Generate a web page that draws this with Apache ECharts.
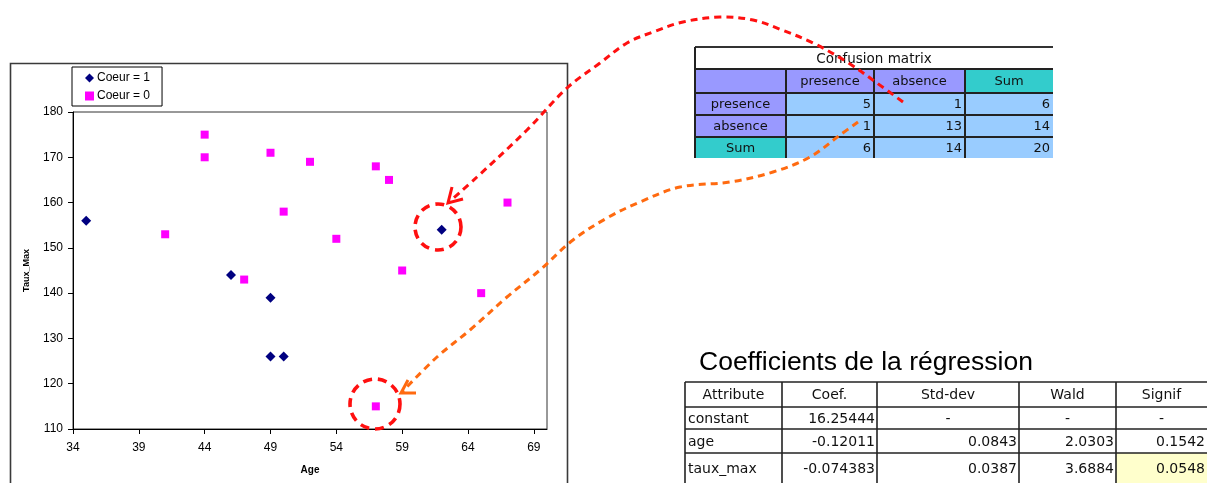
<!DOCTYPE html>
<html>
<head>
<meta charset="utf-8">
<script src="https://cdn.jsdelivr.net/npm/echarts@6/dist/echarts.min.js"></script>
<style>
  html, body { margin: 0; padding: 0; background: #ffffff; }
  #main { width: 1207px; height: 483px; }
</style>
</head>
<body>
<div id="main"></div>
<script>
// ---- Scatter data: age vs. maximum heart rate, split by the Coeur class ----
const ageCoeur1  = [35, 46, 49, 49, 50, 62];
const tauxCoeur1 = [156, 144, 139, 126, 126, 154];

const ageCoeur0  = [44, 44, 49, 50, 41, 52, 57, 58, 54, 47, 67, 59, 65, 57];
const tauxCoeur0 = [175, 170, 171, 158, 153, 169, 168, 165, 152, 143, 160, 145, 140, 115];

const ageTicks = [34, 39, 44, 49, 54, 59, 64, 69];

// ---- Confusion matrix ----
const cmTitle = 'Confusion matrix';
const cmColLabels = ['presence', 'absence', 'Sum'];
const cmRowLabels = ['presence', 'absence', 'Sum'];
const cmPresence = [5, 1, 6];
const cmAbsence  = [1, 13, 14];
const cmSum      = [6, 14, 20];

// ---- Logistic regression coefficients ----
const regTitle = 'Coefficients de la régression';
const regHeaders    = ['Attribute', 'Coef.', 'Std-dev', 'Wald', 'Signif'];
const regAttributes = ['constant', 'age', 'taux_max'];
const regCoef       = ['16.25444', '-0.12011', '-0.074383'];
const regStdDev     = ['-', '0.0843', '0.0387'];
const regWald       = ['-', '2.0303', '3.6884'];
const regSignif     = ['-', '0.1542', '0.0548'];

const chart = echarts.init(document.getElementById('main'), null, { renderer: 'canvas' });

const AXIS_FONT = 'Liberation Sans, Arial, sans-serif';
const TABLE_FONT = 'DejaVu Sans, Verdana, sans-serif';

function pairs(xs, ys) { return xs.map((x, i) => [x, ys[i]]); }

// ---------- graphic helpers ----------
const elements = [];
function rect(x, y, w, h, fill, z) {
  elements.push({ type: 'rect', shape: { x, y, width: w, height: h }, style: { fill }, z: z || 1, silent: true });
}
function line(x1, y1, x2, y2, stroke, lw, z) {
  elements.push({ type: 'line', shape: { x1, y1, x2, y2 }, style: { stroke, lineWidth: lw }, z: z || 3, silent: true });
}
function text(x, y, str, font, align, fill, z) {
  elements.push({ type: 'text', x, y, style: { text: str, font, align, verticalAlign: 'middle', fill: fill || '#111' }, z: z || 4, silent: true });
}

// Outer frame of the chart object
elements.push({ type: 'rect', shape: { x: 10.5, y: 63.5, width: 557, height: 440 },
  style: { fill: 'none', stroke: '#3a3a3a', lineWidth: 1.6 }, z: 0, silent: true });

// ---------- confusion matrix ----------
(function () {
  const xs = [695, 786, 874, 965, 1053];
  const ys = [47, 69, 93, 115, 137, 158];
  const lav = '#9999FF', teal = '#33CCCC', blue = '#99CCFF';
  const font = '13px ' + TABLE_FONT;
  const body = [cmPresence, cmAbsence, cmSum];
  const headFills = [lav, lav, lav, teal];
  const rowFills = [lav, lav, teal];

  // header row
  for (let c = 0; c < 4; c++) rect(xs[c], ys[1], xs[c + 1] - xs[c], ys[2] - ys[1], headFills[c]);
  cmColLabels.forEach((t, c) => text((xs[c + 1] + xs[c + 2]) / 2, (ys[1] + ys[2]) / 2 + 1, t, font, 'center'));
  // body rows
  for (let r = 0; r < 3; r++) {
    const y0 = ys[r + 2], y1 = ys[r + 3];
    rect(xs[0], y0, xs[1] - xs[0], y1 - y0, rowFills[r]);
    for (let c = 1; c < 4; c++) rect(xs[c], y0, xs[c + 1] - xs[c], y1 - y0, blue);
    text((xs[0] + xs[1]) / 2, (y0 + y1) / 2 + 1, cmRowLabels[r], font, 'center');
    body[r].forEach((v, c) => text(xs[c + 2] - 3, (y0 + y1) / 2 + 1, String(v), font, 'right'));
  }
  text((xs[0] + xs[4]) / 2, (ys[0] + ys[1]) / 2 + 1, cmTitle, '13.5px ' + TABLE_FONT, 'center');

  // rules
  line(xs[0], ys[0], xs[4], ys[0], '#333', 2);
  for (let r = 1; r <= 4; r++) line(xs[0], ys[r], xs[4], ys[r], '#222', 2);
  line(xs[0], ys[0], xs[0], ys[5], '#222', 2);
  for (let c = 1; c <= 3; c++) line(xs[c], ys[1], xs[c], ys[5], '#222', 2);
})();

// ---------- regression coefficients table ----------
(function () {
  const xs = [685, 782, 877, 1019, 1116, 1207];
  const ys = [382, 407, 429, 453, 483];
  const font = '14px ' + TABLE_FONT;
  const cols = [regCoef, regStdDev, regWald, regSignif];

  // highlighted p-value
  rect(xs[4], ys[3], 1207 - xs[4], 483 - ys[3], '#FFFFCC');

  regHeaders.forEach((h, c) => text((xs[c] + xs[c + 1]) / 2, (ys[0] + ys[1]) / 2 + 1, h, font, 'center'));
  regAttributes.forEach((a, r) => {
    const yc = (ys[r + 1] + ys[r + 2]) / 2 + 1;
    text(xs[0] + 3, yc, a, font, 'left');
    cols.forEach((col, c) => {
      const v = col[r];
      if (v === '-') text((xs[c + 1] + xs[c + 2]) / 2, yc, v, font, 'center');
      else text(xs[c + 2] - 2, yc, v, font, 'right');
    });
  });

  for (let r = 0; r < 4; r++) line(xs[0], ys[r], 1207, ys[r], '#222', 1.6);
  for (let c = 0; c < 5; c++) line(xs[c], ys[0], xs[c], 483, '#222', 1.6);

  elements.push({ type: 'text', x: 699, y: 363,
    style: { text: regTitle, font: '26.5px ' + AXIS_FONT, fill: '#000', align: 'left', verticalAlign: 'middle' },
    z: 4, silent: true });
})();

// ---------- annotations: dashed circles and curved arrows ----------
const red = '#FF1010', orange = '#FF6A10';
elements.push({ type: 'circle', shape: { cx: 438, cy: 227, r: 23 },
  style: { fill: 'none', stroke: red, lineWidth: 3.6, lineDash: [9, 6] }, z: 20, silent: true });
elements.push({ type: 'circle', shape: { cx: 375, cy: 404, r: 25 },
  style: { fill: 'none', stroke: red, lineWidth: 3.6, lineDash: [9, 6] }, z: 20, silent: true });

elements.push({ type: 'polyline', shape: { smooth: 0.35, points: [
    [903, 102], [877, 83], [847, 62], [813, 43], [782, 30], [753, 20], [720, 17], [683, 22],
    [653, 32], [627, 43], [600, 63], [567, 88], [527, 130], [477, 177], [449, 202]] },
  style: { fill: 'none', stroke: red, lineWidth: 3, lineDash: [7, 5] }, z: 21, silent: true });
elements.push({ type: 'polyline', shape: { points: [[452, 187], [448, 203], [463, 199]] },
  style: { fill: 'none', stroke: red, lineWidth: 3 }, z: 21, silent: true });

elements.push({ type: 'polyline', shape: { smooth: 0.35, points: [
    [858, 122], [840, 135], [810, 157], [773, 172], [730, 182], [680, 187], [640, 202],
    [607, 218], [573, 240], [540, 270], [507, 297], [470, 330], [437, 357], [402, 392]] },
  style: { fill: 'none', stroke: orange, lineWidth: 3, lineDash: [7, 5] }, z: 21, silent: true });
elements.push({ type: 'polyline', shape: { points: [[408, 380], [401, 393], [416, 393]] },
  style: { fill: 'none', stroke: orange, lineWidth: 3 }, z: 21, silent: true });

const option = {
  backgroundColor: '#ffffff',
  animation: false,
  textStyle: { fontFamily: AXIS_FONT },
  grid: {
    left: 73, top: 112, width: 474, height: 317,
    show: true, borderColor: '#333', borderWidth: 1, backgroundColor: 'transparent'
  },
  legend: {
    left: 72, top: 67, orient: 'vertical',
    padding: [5, 12, 4, 13], itemGap: 6, itemWidth: 9, itemHeight: 9,
    borderColor: '#000', borderWidth: 1,
    textStyle: { fontSize: 12, color: '#000', fontFamily: AXIS_FONT, padding: [0, 0, 0, -2] },
    data: ['Coeur = 1', 'Coeur = 0']
  },
  xAxis: {
    type: 'value', min: 34, max: 70,
    name: 'Age', nameLocation: 'middle', nameGap: 36,
    nameTextStyle: { fontSize: 10, fontWeight: 'bold', color: '#000', fontFamily: AXIS_FONT },
    axisLine: { show: true, lineStyle: { color: '#000', width: 1 } },
    axisTick: { show: true, length: 5, customValues: ageTicks, lineStyle: { color: '#000' } },
    axisLabel: { customValues: ageTicks, margin: 13, fontSize: 12, color: '#000' },
    splitLine: { show: false }
  },
  yAxis: {
    type: 'value', min: 110, max: 180, interval: 10,
    name: 'Taux_Max', nameLocation: 'middle', nameGap: 42, nameRotate: 90,
    nameTextStyle: { fontSize: 9, fontWeight: 'bold', color: '#000', fontFamily: AXIS_FONT },
    axisLine: { show: true, lineStyle: { color: '#000', width: 1 } },
    axisTick: { show: true, length: 5, lineStyle: { color: '#000' } },
    axisLabel: { margin: 10, fontSize: 12, color: '#000' },
    splitLine: { show: false }
  },
  series: [
    {
      name: 'Coeur = 1', type: 'scatter', symbol: 'diamond', symbolSize: 10,
      itemStyle: { color: '#000080', opacity: 1 }, data: pairs(ageCoeur1, tauxCoeur1), z: 5
    },
    {
      name: 'Coeur = 0', type: 'scatter', symbol: 'rect', symbolSize: 8,
      itemStyle: { color: '#FF00FF', opacity: 1 }, data: pairs(ageCoeur0, tauxCoeur0), z: 4
    }
  ],
  graphic: { elements }
};

chart.setOption(option);
</script>
</body>
</html>
